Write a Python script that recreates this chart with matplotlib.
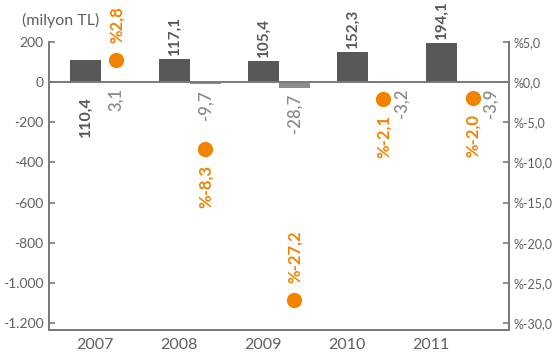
import numpy as np
import matplotlib
matplotlib.use("Agg")
import matplotlib.pyplot as plt

plt.rcParams['font.family'] = ['Lato', 'DejaVu Sans']

# Data
years = ["2007", "2008", "2009", "2010", "2011"]
series_a = [110.4, 117.1, 105.4, 152.3, 194.1]      # milyon TL
series_b = [3.1, -9.7, -28.7, -3.2, -3.9]           # milyon TL
ratio_pct = [2.8, -8.3, -27.2, -2.1, -2.0]          # %
left_ticks = [200, 0, -200, -400, -600, -800, -1000, -1200]
right_ticks = [5, 0, -5, -10, -15, -20, -25, -30]

# Styles
DARK = "#585858"
LIGHT = "#8c8c8c"
ORANGE = "#f08300"
AXIS = "#7a7a7a"
TEXT = "#5f5f5f"


def tr_num(v, dec=1):
    s = f"{v:,.{dec}f}"
    return s.replace(",", "X").replace(".", ",").replace("X", ".")


fig = plt.figure(figsize=(5.54, 3.60), dpi=100)
ax = fig.add_axes([49 / 554, 30 / 360, 460 / 554, 288 / 360])
ax2 = ax.twinx()

x = np.arange(len(years))
w = 0.348
ax.bar(x - w / 2, series_a, width=w, color=DARK, zorder=2)
ax.bar(x + w / 2, series_b, width=w, color=LIGHT, zorder=2)
ax.axhline(0, color=AXIS, lw=1.4, zorder=3)

ax.set_xlim(-0.584, 4.584)
ax.set_ylim(-1235, 200)
ax2.set_ylim(-30.875, 5)

ax.set_yticks(left_ticks)
ax.set_yticklabels([tr_num(v, 0) for v in left_ticks])
ax2.set_yticks(right_ticks)
ax2.set_yticklabels(["%" + tr_num(v, 1) for v in right_ticks])

ax.set_xticks(-0.07 + np.arange(len(years)) * 0.944)
ax.set_xticklabels(years)

for a in (ax, ax2):
    for s in a.spines.values():
        s.set_color(AXIS)
        s.set_linewidth(1.4)
    a.spines['top'].set_visible(False)
ax.spines['left'].set_bounds(-1235, 200)
ax2.spines['right'].set_bounds(-30.875, 5)

ax.tick_params(axis='y', direction='in', length=4, width=1.2, color=AXIS,
               labelcolor=TEXT, labelsize=10, pad=4)
ax2.tick_params(axis='y', direction='in', length=4, width=1.2, color=AXIS,
                labelcolor=TEXT, labelsize=9, pad=3)
ax.tick_params(axis='x', length=0, labelcolor=TEXT, labelsize=11.5, pad=6)

# Orange markers on the percentage axis
ax2.plot(x + w / 2, ratio_pct, 'o', color=ORANGE, ms=11, mec='none',
         zorder=5, clip_on=False)

# Value labels for the dark series
for i, v in enumerate(series_a):
    if i == 0:
        ax.annotate(tr_num(v), (x[i] - w / 2, 0), xytext=(0, -14),
                    textcoords='offset pixels', rotation=90, ha='center',
                    va='top', color=DARK, fontsize=11.5, fontweight='bold')
    else:
        ax.annotate(tr_num(v), (x[i] - w / 2, v), xytext=(0, 3),
                    textcoords='offset pixels', rotation=90, ha='center',
                    va='bottom', color=DARK, fontsize=11, fontweight='bold')

# Value labels for the light series
for i, v in enumerate(series_b):
    dx = 0
    if abs(ratio_pct[i]) < 4:
        dx = 18 if ratio_pct[i] < 0 else 0
    ax.annotate(tr_num(v), (x[i] + w / 2, min(v, 0)), xytext=(dx, -6),
                textcoords='offset pixels', rotation=90, ha='center',
                va='top', color=LIGHT, fontsize=12, fontweight='semibold')

# Percentage labels next to the markers
for i, p in enumerate(ratio_pct):
    above = i in (0, 2)
    ax2.annotate("%" + tr_num(p), (x[i] + w / 2, p),
                 xytext=(0, 17 if above else -16), textcoords='offset pixels',
                 rotation=90, ha='center', va='bottom' if above else 'top',
                 color=ORANGE, fontsize=12, fontweight='bold')

fig.text(22 / 554, 1 - 20 / 360, "(milyon TL)", color=TEXT, fontsize=11.5,
         ha='left', va='center')

fig.savefig("out.png", dpi=100)
